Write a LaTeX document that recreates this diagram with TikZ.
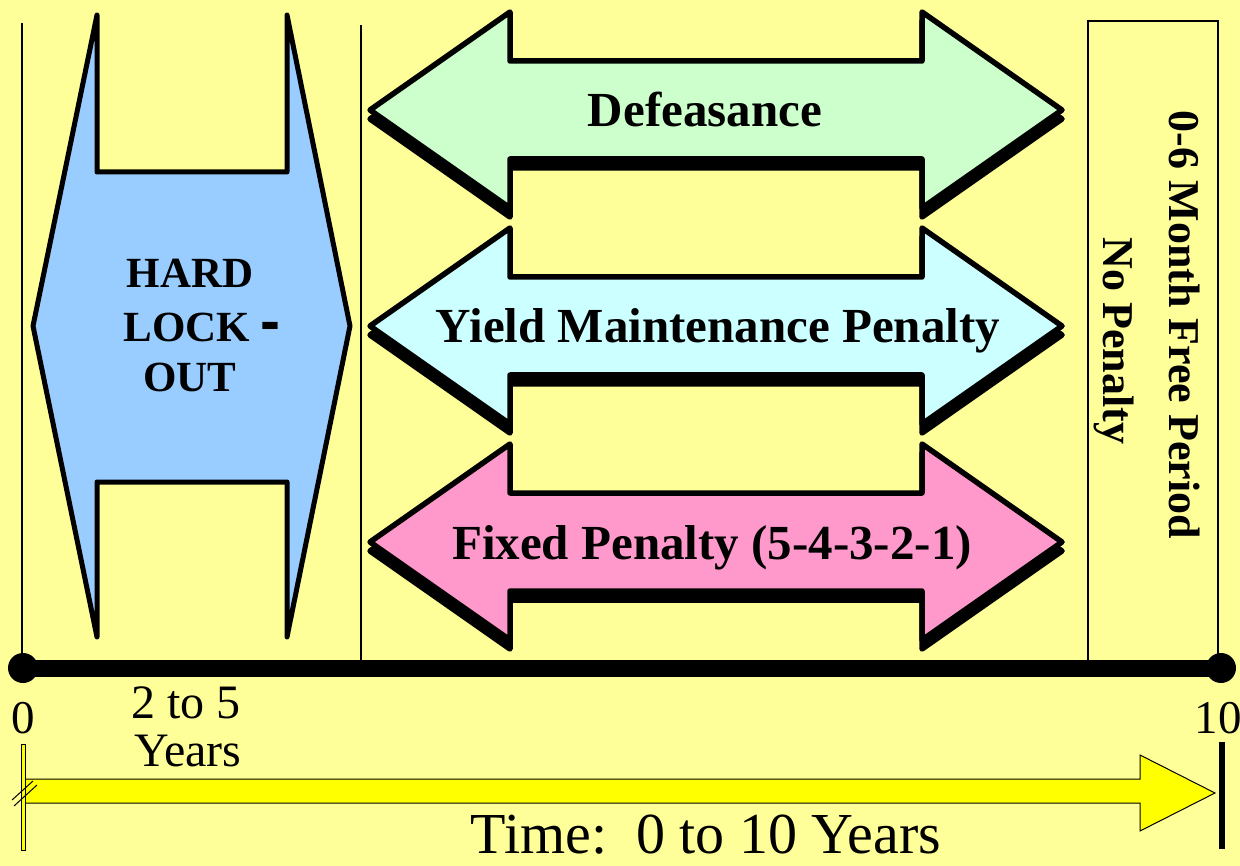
\documentclass[tikz,border=0pt]{standalone}
\usepackage{fontspec}
\setmainfont{Liberation Serif}
\newfontfamily\hyphfont{Liberation Sans}
\definecolor{bg}{HTML}{FFFF99}
\definecolor{lockblue}{HTML}{99CCFF}
\definecolor{defgreen}{HTML}{CCFFCC}
\definecolor{ymcyan}{HTML}{CCFFFF}
\definecolor{fixpink}{HTML}{FF99CC}
\definecolor{timeyellow}{HTML}{FFFF00}
\newcommand\setfs[1]{\fontsize{#1pt}{#1pt}\selectfont}
\newcommand\twoway[2]{%
  \draw[arrowline, fill=black, shift={(0,#1+9)}] (370,0) -- (510,-98) -- (510,-49) -- (922,-49) -- (922,-98) -- (1062,0) -- (922,98) -- (922,49) -- (510,49) -- (510,98) -- cycle;
  \draw[arrowline, fill=#2, shift={(0,#1)}] (370,0) -- (510,-98) -- (510,-49) -- (922,-49) -- (922,-98) -- (1062,0) -- (922,98) -- (922,49) -- (510,49) -- (510,98) -- cycle;
}
\begin{document}
\begin{tikzpicture}[x=1pt,y=-1pt,
  arrowline/.style={draw=black, line width=5.5pt, line join=round},
  lockline/.style={draw=black, line width=5pt, line join=round},
  thinline/.style={draw=black, line width=1.5pt},
  dot/.style={circle, fill=black, inner sep=0pt, minimum size=30pt},
  lbl/.style={font=\bfseries\setfs{49}, inner sep=0pt},
  locklbl/.style={font=\bfseries\setfs{43}, inner sep=0pt},
  boxlbl/.style={font=\bfseries\setfs{44}, inner sep=0pt, rotate=-90},
  numlbl/.style={font=\setfs{47}, inner sep=0pt},
  yrlbl/.style={font=\setfs{48}, inner sep=0pt},
  timelbl/.style={font=\setfs{58}, inner sep=0pt},
  timearrow/.style={draw=black, line width=1pt, fill=timeyellow}]
\useasboundingbox (0,0) rectangle (1240,866);
\fill[bg] (0,0) rectangle (1240,866);
% thin vertical separators and right box
\draw[thinline] (22,23) -- (22,668);
\draw[thinline] (361,25) -- (361,668);
\draw[line width=2.5pt] (1088,668) -- (1088,21) -- (1218,21) -- (1218,668);
% hard lock-out shape
\draw[lockline, fill=lockblue] (97,15) -- (97,172) -- (287,172) -- (287,15) -- (350,326) -- (287,637) -- (287,482) -- (97,482) -- (97,637) -- (33,326) -- cycle;
\node[locklbl, anchor=base] (hard) at (190,288) {HARD};
\node[locklbl, anchor=base] (lock) at (202,342) {LOCK {\hyphfont\setfs{60}-}};
\node[locklbl, anchor=base] (out) at (190,392) {OUT};
% double arrows
\twoway{110}{defgreen}
\twoway{326}{ymcyan}
\twoway{542}{fixpink}
\node[lbl, anchor=base] (def) at (705,127) {Defeasance};
\node[lbl, anchor=base] (ym) at (718,343) {Yield Maintenance Penalty};
\node[lbl, anchor=base] (fix) at (712,559) {Fixed Penalty (5-4-3-2-1)};
% right box labels
\node[boxlbl, anchor=base] (free) at (1169,325) {0-6 Month Free Period};
\node[boxlbl, anchor=base] (nopen) at (1103,341) {No Penalty};
% axis
\node[dot] (p0) at (23,668) {};
\node[dot] (p10) at (1221,668) {};
\draw[line width=17pt] (p0.center) -- (p10.center);
\node[numlbl, anchor=base] (l0) at (23,733) {0};
\node[numlbl, anchor=base] (l10) at (1218,733) {10};
\node[yrlbl, anchor=base] (yrs1) at (186,718) {2 to 5};
\node[yrlbl, anchor=base] (yrs2) at (188,766) {Years};
% time arrow
\draw[timearrow] (22,779) -- (1140,779) -- (1140,755) -- (1215,793) -- (1140,831) -- (1140,803) -- (22,803) -- cycle;
\draw[timearrow] (21,744) rectangle (25,850);
\draw[line width=1pt] (12,800) -- (33,781);
\draw[line width=1pt] (14,806) -- (37,785);
\coordinate (endtop) at (1222,742);
\coordinate (endbot) at (1222,849);
\draw[line width=6pt] (endtop) -- (endbot);
\node[timelbl, anchor=base] (time) at (706,853) {Time:\hspace{0.5em}0 to 10 Years};
\end{tikzpicture}
\end{document}
